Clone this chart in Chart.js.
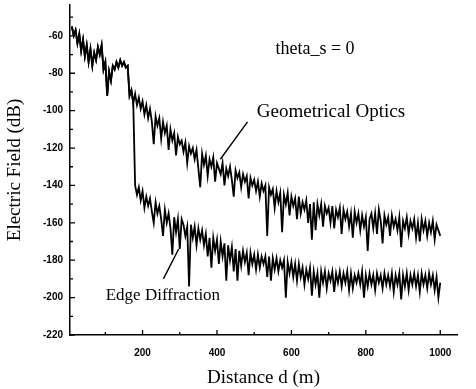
<!DOCTYPE html>
<html>
<head>
<meta charset="utf-8">
<script src="https://cdn.jsdelivr.net/npm/chart.js"></script>
<style>
  body { margin: 0; background: #fff; }
  canvas { display: block; }
</style>
</head>
<body>
<canvas id="myChart" width="476" height="389"></canvas>
<script>
// distance samples (m)
var distance = [
  10, 15, 20, 25, 30, 35, 40, 45, 50, 55,
  60, 65, 70, 75, 80, 85, 90, 95, 100, 105,
  110, 115, 120, 125, 130, 135, 140, 145, 150, 155,
  160, 165, 170, 175, 180, 185, 190, 195, 200, 205,
  210, 215, 220, 225, 230, 235, 240, 245, 250, 255,
  260, 265, 270, 275, 280, 285, 290, 295, 300, 305,
  310, 315, 320, 325, 330, 335, 340, 345, 350, 355,
  360, 365, 370, 375, 380, 385, 390, 395, 400, 405,
  410, 415, 420, 425, 430, 435, 440, 445, 450, 455,
  460, 465, 470, 475, 480, 485, 490, 495, 500, 505,
  510, 515, 520, 525, 530, 535, 540, 545, 550, 555,
  560, 565, 570, 575, 580, 585, 590, 595, 600, 605,
  610, 615, 620, 625, 630, 635, 640, 645, 650, 655,
  660, 665, 670, 675, 680, 685, 690, 695, 700, 705,
  710, 715, 720, 725, 730, 735, 740, 745, 750, 755,
  760, 765, 770, 775, 780, 785, 790, 795, 800, 805,
  810, 815, 820, 825, 830, 835, 840, 845, 850, 855,
  860, 865, 870, 875, 880, 885, 890, 895, 900, 905,
  910, 915, 920, 925, 930, 935, 940, 945, 950, 955,
  960, 965, 970, 975, 980, 985, 990, 995, 1000
];

// electric field (dB), geometrical optics
var geoOptics = [
  -55, -60, -57, -64, -59, -68, -62, -71, -65, -74,
  -67, -76, -69, -73, -66, -70, -65, -78, -74, -92,
  -79, -84, -76, -78, -74, -77, -73, -76, -74, -77,
  -76, -92, -89, -96, -91, -97, -93, -99, -95, -102,
  -97, -104, -99, -106, -118, -103, -108, -104, -115, -106,
  -112, -108, -121, -110, -116, -112, -124, -114, -118, -116,
  -122, -117, -128, -119, -123, -120, -126, -121, -131, -141,
  -123, -129, -124, -135, -126, -130, -125, -138, -128, -131,
  -134, -128, -140, -131, -135, -130, -137, -146, -132, -136,
  -133, -141, -134, -138, -135, -147, -136, -140, -137, -143,
  -138, -146, -139, -143, -140, -167, -141, -145, -142, -152,
  -143, -149, -144, -165, -145, -150, -144, -156, -146, -151,
  -147, -158, -146, -155, -149, -153, -148, -160, -150, -169,
  -149, -164, -150, -156, -150, -162, -151, -155, -152, -160,
  -151, -163, -153, -157, -152, -166, -153, -158, -154, -162,
  -155, -168, -154, -160, -155, -164, -156, -162, -157, -175,
  -158, -155, -163, -155, -166, -153, -159, -171, -156, -161,
  -157, -167, -156, -162, -158, -164, -157, -173, -159, -163,
  -157, -166, -159, -163, -158, -168, -160, -170, -158, -164,
  -159, -167, -160, -165, -159, -169, -161, -164, -167
];

// electric field (dB), edge diffraction
var edgeDiff = [
  -55, -60, -57, -64, -59, -68, -62, -71, -65, -74,
  -67, -76, -69, -73, -66, -70, -65, -78, -74, -92,
  -79, -84, -76, -78, -74, -77, -73, -76, -74, -77,
  -76, -92, -89, -96, -140, -145, -141, -148, -143, -152,
  -146, -151, -147, -154, -160, -149, -155, -151, -158, -167,
  -153, -160, -155, -163, -177, -157, -165, -158, -174, -158,
  -161, -167, -162, -194, -161, -168, -162, -172, -163, -169,
  -164, -172, -166, -178, -168, -184, -168, -175, -169, -182,
  -170, -178, -171, -191, -172, -180, -173, -186, -174, -191,
  -175, -183, -175, -181, -176, -188, -176, -182, -177, -185,
  -177, -184, -178, -182, -178, -189, -178, -191, -179, -185,
  -179, -186, -180, -184, -180, -200, -181, -187, -181, -189,
  -182, -191, -182, -189, -184, -193, -185, -190, -184, -199,
  -186, -193, -187, -200, -186, -192, -186, -195, -187, -191,
  -186, -197, -187, -192, -186, -194, -187, -192, -186, -196,
  -187, -195, -188, -192, -187, -193, -186, -200, -188, -194,
  -187, -193, -188, -196, -187, -192, -188, -195, -187, -193,
  -188, -194, -187, -197, -188, -193, -187, -201, -188, -194,
  -187, -196, -188, -193, -187, -194, -188, -197, -187, -193,
  -188, -195, -187, -193, -188, -196, -189, -200, -192
];

var xLabels = [200, 400, 600, 800, 1000];
var yLabels = [-60, -80, -100, -120, -140, -160, -180, -200, -220];

function toPoints(ys) {
  return distance.map(function (d, i) { return { x: d, y: ys[i] }; });
}

// tick marks point into the plot, long on labelled ticks
var inwardTicks = {
  id: 'inwardTicks',
  afterDraw: function (chart) {
    var ctx = chart.ctx;
    var xs = chart.scales.x, ys = chart.scales.y;
    var area = chart.chartArea;
    ctx.save();
    ctx.strokeStyle = '#000';
    ctx.lineWidth = 1.3;
    ctx.beginPath();
    xs.ticks.forEach(function (t) {
      var px = xs.getPixelForValue(t.value);
      var len = xLabels.indexOf(t.value) >= 0 ? 5 : 3;
      ctx.moveTo(px, area.bottom);
      ctx.lineTo(px, area.bottom - len);
    });
    ys.ticks.forEach(function (t) {
      var py = ys.getPixelForValue(t.value);
      var len = yLabels.indexOf(t.value) >= 0 ? 5 : 3;
      ctx.moveTo(area.left, py);
      ctx.lineTo(area.left + len, py);
    });
    ctx.stroke();
    ctx.restore();
  }
};

// curve names, arrows and the angle note
var notes = {
  id: 'notes',
  afterDraw: function (chart) {
    var ctx = chart.ctx;
    var xs = chart.scales.x, ys = chart.scales.y;
    function X(v) { return xs.getPixelForValue(v); }
    function Y(v) { return ys.getPixelForValue(v); }
    ctx.save();
    ctx.fillStyle = '#000';
    ctx.strokeStyle = '#000';
    ctx.textBaseline = 'middle';
    ctx.textAlign = 'left';
    ctx.font = '18px "Liberation Serif"';
    ctx.fillText('theta_s = 0', X(557), Y(-67));
    ctx.font = '19px "Liberation Serif"';
    ctx.fillText('Geometrical Optics', X(507), Y(-101));
    ctx.font = '17px "Liberation Serif"';
    ctx.fillText('Edge Diffraction', X(101), Y(-199));
    ctx.lineWidth = 1.4;
    ctx.beginPath();
    ctx.moveTo(X(482), Y(-106));
    ctx.lineTo(X(409), Y(-126));
    ctx.moveTo(X(256), Y(-190));
    ctx.lineTo(X(297), Y(-174));
    ctx.stroke();
    ctx.restore();
  }
};

var ctx = document.getElementById('myChart');

new Chart(ctx, {
  type: 'line',
  data: {
    datasets: [{
      label: 'Geometrical Optics',
      data: toPoints(geoOptics),
      borderColor: '#000',
      borderWidth: 1.8,
      pointRadius: 0,
      tension: 0
    }, {
      label: 'Edge Diffraction',
      data: toPoints(edgeDiff),
      borderColor: '#000',
      borderWidth: 1.8,
      pointRadius: 0,
      tension: 0
    }]
  },
  options: {
    responsive: false,
    animation: false,
    layout: { padding: { top: 5, right: 19, left: 0, bottom: 0 } },
    plugins: {
      legend: { display: false },
      tooltip: { enabled: false }
    },
    scales: {
      x: {
        type: 'linear',
        min: 5,
        max: 1045,
        afterFit: function (s) {
          s.height = 54;
          s.paddingLeft = 0;
          s.paddingRight = 0;
        },
        afterBuildTicks: function (s) {
          s.ticks = s.ticks.filter(function (t) { return t.value % 100 === 0 && t.value > 0; });
        },
        ticks: {
          stepSize: 100,
          includeBounds: false,
          padding: 12,
          color: '#000',
          maxRotation: 0,
          autoSkip: false,
          font: { family: 'Liberation Sans', size: 10, weight: 'bold' },
          callback: function (v) { return xLabels.indexOf(v) >= 0 ? String(v) : ''; }
        },
        grid: { drawOnChartArea: false, drawTicks: false },
        border: { display: true, color: '#000', width: 1.5 },
        title: {
          display: true,
          text: 'Distance d (m)',
          color: '#000',
          padding: { top: 0, bottom: 0 },
          font: { family: 'Liberation Serif', size: 19 }
        }
      },
      y: {
        min: -220,
        max: -43.5,
        afterFit: function (s) {
          s.width = 70;
          s.paddingTop = 0;
          s.paddingBottom = 0;
        },
        afterBuildTicks: function (s) {
          s.ticks = s.ticks.filter(function (t) { return t.value % 10 === 0; });
        },
        ticks: {
          stepSize: 10,
          includeBounds: false,
          padding: 7,
          color: '#000',
          autoSkip: false,
          font: { family: 'Liberation Sans', size: 10, weight: 'bold' },
          callback: function (v) { return yLabels.indexOf(v) >= 0 ? String(v) : ''; }
        },
        grid: { drawOnChartArea: false, drawTicks: false },
        border: { display: true, color: '#000', width: 1.5 },
        title: {
          display: true,
          text: 'Electric Field (dB)',
          color: '#000',
          padding: { top: 4, bottom: 0 },
          font: { family: 'Liberation Serif', size: 19 }
        }
      }
    }
  },
  plugins: [inwardTicks, notes]
});
</script>
</body>
</html>
